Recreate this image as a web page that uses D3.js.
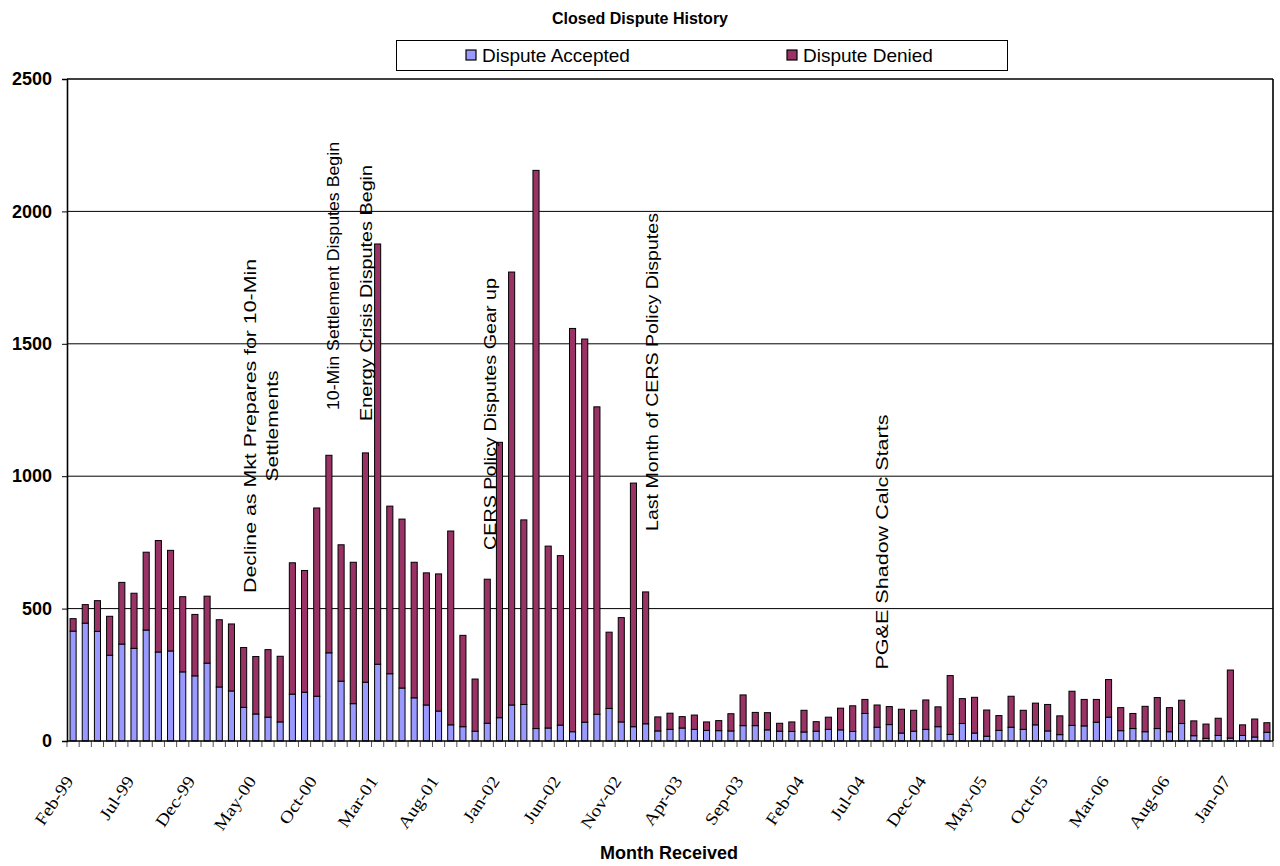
<!DOCTYPE html>
<html><head><meta charset="utf-8">
<script src="https://cdn.jsdelivr.net/npm/d3@7"></script>
<style>body{margin:0;background:#fff}svg{display:block}</style>
</head><body><svg id="c" width="1280" height="866"></svg>
<script>
const categories = [
 "Feb-99","Mar-99","Apr-99","May-99","Jun-99","Jul-99","Aug-99","Sep-99","Oct-99","Nov-99","Dec-99",
 "Jan-00","Feb-00","Mar-00","Apr-00","May-00","Jun-00","Jul-00","Aug-00","Sep-00","Oct-00","Nov-00","Dec-00",
 "Jan-01","Feb-01","Mar-01","Apr-01","May-01","Jun-01","Jul-01","Aug-01","Sep-01","Oct-01","Nov-01","Dec-01",
 "Jan-02","Feb-02","Mar-02","Apr-02","May-02","Jun-02","Jul-02","Aug-02","Sep-02","Oct-02","Nov-02","Dec-02",
 "Jan-03","Feb-03","Mar-03","Apr-03","May-03","Jun-03","Jul-03","Aug-03","Sep-03","Oct-03","Nov-03","Dec-03",
 "Jan-04","Feb-04","Mar-04","Apr-04","May-04","Jun-04","Jul-04","Aug-04","Sep-04","Oct-04","Nov-04","Dec-04",
 "Jan-05","Feb-05","Mar-05","Apr-05","May-05","Jun-05","Jul-05","Aug-05","Sep-05","Oct-05","Nov-05","Dec-05",
 "Jan-06","Feb-06","Mar-06","Apr-06","May-06","Jun-06","Jul-06","Aug-06","Sep-06","Oct-06","Nov-06","Dec-06",
 "Jan-07","Feb-07","Mar-07","Apr-07"];
const accepted = [
 415,445,414,324,366,350,419,336,340,261,246,294,204,189,127,102,90,72,177,184,
 169,333,226,141,222,290,254,200,163,136,113,61,54,37,67,88,136,138,47,49,
 60,35,71,101,123,72,54,65,38,44,49,44,40,39,38,58,58,42,37,36,
 34,37,44,42,36,104,52,62,30,37,44,54,25,66,30,18,40,52,44,61,
 38,24,59,57,71,90,39,47,35,47,35,66,20,10,21,11,21,15,33];
const denied = [
 47,70,116,147,233,208,294,421,380,284,232,253,254,253,226,217,255,248,496,460,
 711,746,515,534,866,1587,633,638,512,499,518,732,345,197,544,1040,1635,697,2108,687,
 640,1523,1447,1161,288,394,920,498,53,61,43,54,32,38,65,116,50,65,30,36,
 82,36,46,82,97,53,84,68,90,79,111,75,222,94,135,99,56,117,72,82,
 100,71,129,100,86,142,87,57,96,117,91,88,56,54,65,257,40,68,36];
const seriesNames = ["Dispute Accepted","Dispute Denied"];
const tickLabels = ["Feb-99","Jul-99","Dec-99","May-00","Oct-00","Mar-01","Aug-01","Jan-02","Jun-02","Nov-02",
 "Apr-03","Sep-03","Feb-04","Jul-04","Dec-04","May-05","Oct-05","Mar-06","Aug-06","Jan-07"];
const yTicks = [0,500,1000,1500,2000,2500];
const annotations = [
 ["Decline as Mkt Prepares for 10-Min","Settlements"],
 ["10-Min Settlement Disputes Begin"],
 ["Energy Crisis Disputes Begin"],
 ["CERS Policy Disputes Gear up"],
 ["Last Month of CERS Policy Disputes"],
 ["PG&E Shadow Calc Starts"]];
const titleText = "Closed Dispute History";
const xTitle = "Month Received";

const colors = ["#9999FF","#993366"];
const SANS = "'Liberation Sans', Arial, sans-serif";
const SERIF = "'Liberation Serif', 'Times New Roman', serif";
const L = 67, R = 1273, T = 79, B = 741;

const svg = d3.select("#c");
svg.append("rect").attr("width",1280).attr("height",866).attr("fill","#fff");

const x = d3.scaleBand().domain(categories).range([L,R]).paddingInner(0.5).paddingOuter(0.25);
const y = d3.scaleLinear().domain([0,2500]).range([B,T]);
const step = x.step(), bw = x.bandwidth();

// gridlines
svg.append("g").selectAll("line").data(yTicks.filter(d=>d>0)).join("line")
  .attr("x1",L).attr("x2",R).attr("y1",d=>y(d)).attr("y2",d=>y(d))
  .attr("stroke","#000").attr("stroke-width",d=>d===2500?1.6:1);
svg.append("line").attr("x1",R).attr("x2",R).attr("y1",T).attr("y2",B).attr("stroke","#000").attr("stroke-width",1.6);

// bars
const table = categories.map((c,i)=>({cat:c, acc:accepted[i], den:denied[i]}));
const stack = d3.stack().keys(["acc","den"])(table);
svg.append("g").selectAll("g").data(stack).join("g")
  .attr("fill",(d,i)=>colors[i])
  .selectAll("rect").data(d=>d).join("rect")
  .attr("x",d=>x(d.data.cat)).attr("width",bw)
  .attr("y",d=>y(d[1])).attr("height",d=>y(d[0])-y(d[1]))
  .attr("stroke","#000").attr("stroke-width",1);

// x axis tick marks at category boundaries
const bounds = categories.map(c=>x(c)+bw/2-step/2).concat([x(categories[categories.length-1])+bw/2+step/2]);
svg.append("g").selectAll("line").data(bounds).join("line")
  .attr("x1",d=>d).attr("x2",d=>d)
  .attr("y1",B).attr("y2",B+6).attr("stroke","#555").attr("stroke-width",1);

// x axis labels
const xAxis = svg.append("g").attr("transform",`translate(0,${B})`)
  .call(d3.axisBottom(x).tickValues(tickLabels).tickSize(0));
xAxis.select(".domain").remove();
xAxis.selectAll("text")
  .attr("y",0).attr("dy",0).attr("x",0)
  .attr("text-anchor","end")
  .attr("font-family",SERIF).attr("font-size",17).attr("fill","#000")
  .attr("transform","translate(1,40) rotate(-56)")
  .each(function(){ const n=this.getComputedTextLength(); d3.select(this).attr("textLength",n*1.14).attr("lengthAdjust","spacingAndGlyphs"); });
svg.append("line").attr("x1",L).attr("x2",R).attr("y1",B).attr("y2",B).attr("stroke","#000").attr("stroke-width",1.6);

// y axis
const yAxis = svg.append("g").attr("transform",`translate(${L},0)`)
  .call(d3.axisLeft(y).tickValues(yTicks).tickFormat(d3.format("d")).tickSize(5).tickPadding(10));
yAxis.select(".domain").attr("stroke","#000").attr("stroke-width",1.6);
yAxis.selectAll(".tick line").attr("stroke","#000");
yAxis.selectAll("text").attr("font-family",SANS).attr("font-size",18).attr("font-weight","bold").attr("fill","#000");

// titles
svg.append("text").attr("x",640).attr("y",24).attr("text-anchor","middle")
  .attr("font-family",SANS).attr("font-weight","bold").attr("font-size",16).text(titleText);
svg.append("text").attr("x",669).attr("y",859).attr("text-anchor","middle")
  .attr("font-family",SANS).attr("font-weight","bold").attr("font-size",18).text(xTitle);

// legend
const lg = svg.append("g");
lg.append("rect").attr("x",396.5).attr("y",40.5).attr("width",611).attr("height",30).attr("fill","#fff").attr("stroke","#000");
const legendPos = [466, 787];
seriesNames.forEach((n,i)=>{
  lg.append("rect").attr("x",legendPos[i]).attr("y",50).attr("width",10).attr("height",10)
    .attr("fill",colors[i]).attr("stroke","#000").attr("stroke-width",1.2);
  lg.append("text").attr("x",legendPos[i]+16).attr("y",62).attr("font-family",SANS).attr("font-size",19).text(n);
});

// annotations (rotated)
const annPos = [
  [{x:250,y:426,len:334},{x:272,y:426,len:111}],
  [{x:333,y:276,len:268}],
  [{x:366,y:293,len:256}],
  [{x:490,y:414,len:272}],
  [{x:652,y:372,len:318}],
  [{x:882,y:542,len:255}]];
annotations.forEach((lines,i)=>{
  lines.forEach((t,j)=>{
    const p = annPos[i][j];
    svg.append("text").attr("transform",`translate(${p.x+6},${p.y}) rotate(-90)`)
      .attr("text-anchor","middle").attr("font-family",SANS).attr("font-size",17)
      .attr("textLength",p.len).attr("lengthAdjust","spacingAndGlyphs").text(t);
  });
});
</script></body></html>
